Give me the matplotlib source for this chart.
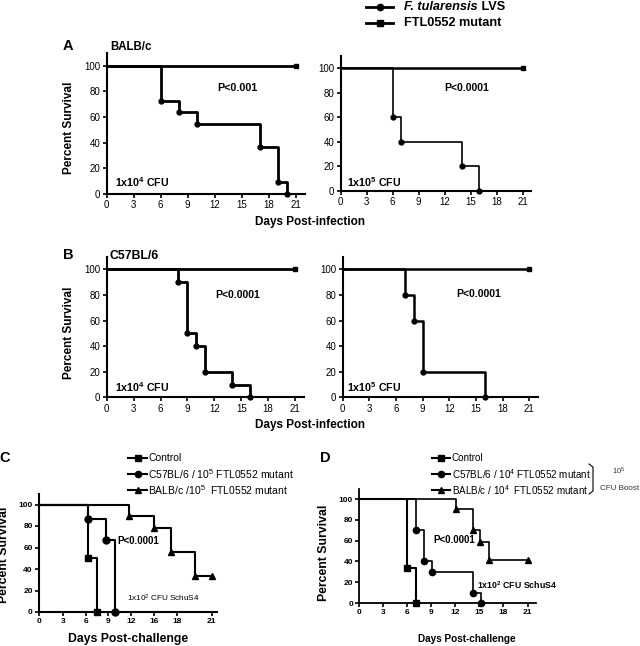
import matplotlib
matplotlib.use("Agg")
import matplotlib.pyplot as plt
from matplotlib.lines import Line2D

plt.rcParams['font.family'] = ['Liberation Sans', 'DejaVu Sans']
plt.rcParams['mathtext.fontset'] = 'custom'
plt.rcParams['mathtext.rm'] = 'Liberation Sans'
plt.rcParams['mathtext.bf'] = 'Liberation Sans:bold'
plt.rcParams['mathtext.it'] = 'Liberation Sans:italic'

W, H = 640, 646

# panel A: BALB/c infected with LVS
a1_days = [0, 6, 8, 10, 17, 19, 20]
a1_surv = [100, 72.7, 63.6, 54.5, 36.4, 9.1, 0]
a2_days = [0, 6, 7, 14, 16]
a2_surv = [100, 60, 40, 20, 0]
# panel B: C57BL/6 infected with LVS
b1_days = [0, 8, 9, 10, 11, 14, 16]
b1_surv = [100, 90, 50, 40, 20, 10, 0]
b2_days = [0, 7, 8, 9, 16]
b2_surv = [100, 80, 60, 20, 0]
# FTL0552 mutant, nobody died
mut_days = [0, 21]
mut_surv = [100, 100]

# panel C: SchuS4 challenge
c_ctrl_days = [0, 6, 7.1]
c_ctrl_surv = [100, 50, 0]
c_c57_days = [0, 6, 8.1, 9.2]
c_c57_surv = [100, 86.7, 66.7, 0]
c_balb_days = [0, 11, 14, 16, 19, 21]
c_balb_surv = [100, 88.9, 77.8, 55.6, 33.3, 33.3]
c_ticks = [0, 2.9, 5.7, 8.4, 11.2, 14, 16.8, 21]
c_ticklabels = ['0', '3', '6', '9', '12', '16', '18', '21']

# panel D: SchuS4 challenge after boost
d_ctrl_days = [0, 6, 7.1]
d_ctrl_surv = [100, 33.3, 0]
d_c57_days = [0, 7.1, 8.1, 9.1, 14.2, 15.2]
d_c57_surv = [100, 70, 40, 30, 10, 0]
d_balb_days = [0, 12.1, 14.2, 15.1, 16.2, 21]
d_balb_surv = [100, 90, 70, 58.3, 41.7, 41.7]

day_ticks = [0, 3, 6, 9, 12, 15, 18, 21]
surv_ticks = [0, 20, 40, 60, 80, 100]

fig = plt.figure(figsize=(6.4, 6.46), dpi=100)


def fx(x):
    return x / W


def fy(y):
    return 1 - y / H


def make_ax(x0, y0, ppd, ppu, xmax, ymax=110, spw=1.5, fs=7, bold=False):
    ax = fig.add_axes([fx(x0), fy(y0), ppd * xmax / W, ppu * ymax / H])
    ax.set_xlim(0, xmax)
    ax.set_ylim(0, ymax)
    ax.spines['top'].set_visible(False)
    ax.spines['right'].set_visible(False)
    ax.spines['left'].set_linewidth(spw)
    ax.spines['bottom'].set_linewidth(spw)
    ax.set_xticks(day_ticks)
    ax.set_yticks(surv_ticks)
    ax.tick_params(direction='out', length=3, width=1.2, labelsize=fs, pad=1.5)
    w = 'bold' if bold else 'normal'
    for lab in ax.get_xticklabels() + ax.get_yticklabels():
        lab.set_fontweight(w)
    return ax


def km(ax, days, surv, marker, lw, ms):
    ax.step(days, surv, where='post', color='k', lw=lw, clip_on=False)
    ax.plot(days[1:], surv[1:], marker, color='k', ms=ms, ls='none', clip_on=False)


def legend_row(x1, x2, y, marker, ms, lw=1.5):
    fig.add_artist(Line2D([fx(x1), fx(x2)], [fy(y), fy(y)], color='k', lw=lw,
                          transform=fig.transFigure))
    fig.add_artist(Line2D([fx((x1 + x2) / 2)], [fy(y)], marker=marker, color='k',
                          ms=ms, transform=fig.transFigure))


# ---- A ----
ax = make_ax(106.7, 194, 9.0, 1.285, 22)
km(ax, mut_days, mut_surv, 's', 2.0, 3.5)
km(ax, a1_days, a1_surv, 'o', 2.0, 3.5)
ax.text(12.3, 82.7, 'P<0.001', fontsize=7.7, fontweight='bold', va='center')
ax.text(0.9, 9.3, r'1x10$^\mathbf{4}$ CFU', fontsize=7.7, fontweight='bold', va='center')

ax = make_ax(340.7, 191, 8.67, 1.227, 22)
km(ax, mut_days, mut_surv, 's', 1.8, 3.5)
km(ax, a2_days, a2_surv, 'o', 1.2, 3.5)
ax.text(11.9, 84.2, 'P<0.0001', fontsize=7.5, fontweight='bold', va='center')
ax.text(0.7, 7.6, r'1x10$^\mathbf{5}$ CFU', fontsize=7.7, fontweight='bold', va='center')

# ---- B ----
ax = make_ax(106.7, 397.3, 8.97, 1.279, 22)
km(ax, mut_days, mut_surv, 's', 2.0, 3.5)
km(ax, b1_days, b1_surv, 'o', 2.0, 3.5)
ax.text(12.1, 80, 'P<0.0001', fontsize=7.5, fontweight='bold', va='center')
ax.text(0.9, 7.8, r'1x10$^\mathbf{4}$ CFU', fontsize=7.7, fontweight='bold', va='center')

ax = make_ax(342.7, 397.3, 8.886, 1.279, 22)
km(ax, mut_days, mut_surv, 's', 1.8, 3.5)
km(ax, b2_days, b2_surv, 'o', 1.8, 3.5)
ax.text(12.8, 80.5, 'P<0.0001', fontsize=7.5, fontweight='bold', va='center')
ax.text(0.45, 7.8, r'1x10$^\mathbf{5}$ CFU', fontsize=7.7, fontweight='bold', va='center')

# ---- C ----
ax = make_ax(39, 612, 8.22, 1.075, 21.6, spw=1.5, fs=6, bold=True)
ax.set_xticks(c_ticks)
ax.set_xticklabels(c_ticklabels, fontweight='bold')
km(ax, c_balb_days, c_balb_surv, '^', 1.5, 4.5)
km(ax, c_c57_days, c_c57_surv, 'o', 1.5, 5)
km(ax, c_ctrl_days, c_ctrl_surv, 's', 1.5, 4.5)
ax.text(9.5, 66, 'P<0.0001', fontsize=7, fontweight='bold', va='center')
ax.text(10.7, 12.5, r'1x10$^2$ CFU SchuS4', fontsize=5.9, va='center')

# ---- D ----
ax = make_ax(359.3, 603, 8.01, 1.04, 22.1, spw=1.3, fs=6, bold=True)
km(ax, d_balb_days, d_balb_surv, '^', 1.2, 4.5)
km(ax, d_c57_days, d_c57_surv, 'o', 1.2, 4.5)
km(ax, d_ctrl_days, d_ctrl_surv, 's', 1.5, 4.5)
ax.text(9.2, 60.5, 'P<0.0001', fontsize=7, fontweight='bold', va='center')
ax.text(14.7, 17, r'1x10$^\mathbf{2}$ CFU SchuS4', fontsize=6.3, fontweight='bold', va='center')

# ---- labels ----
fig.text(fx(68), fy(46.5), 'A', fontsize=10.5, fontweight='bold', ha='center', va='center')
fig.text(fx(110.7), fy(47.3), 'BALB/c', fontsize=8.3, fontweight='bold', va='center')
fig.text(fx(68), fy(255), 'B', fontsize=10.5, fontweight='bold', ha='center', va='center')
fig.text(fx(110), fy(256), 'C57BL/6', fontsize=8.8, fontweight='bold', va='center')
fig.text(fx(5), fy(458), 'C', fontsize=10.5, fontweight='bold', ha='center', va='center')
fig.text(fx(325), fy(458), 'D', fontsize=10.5, fontweight='bold', ha='center', va='center')

for yc in (128, 333):
    fig.text(fx(69), fy(yc), 'Percent Survival', fontsize=8.5, fontweight='bold',
             rotation=90, ha='center', va='center')
for yc in (222, 425):
    fig.text(fx(310.3), fy(yc), 'Days Post-infection', fontsize=8.5, fontweight='bold',
             ha='center', va='center')

fig.text(fx(4.5), fy(555), 'Percent Survival', fontsize=8.8, fontweight='bold',
         rotation=90, ha='center', va='center')
fig.text(fx(324), fy(552.5), 'Percent Survival', fontsize=8.8, fontweight='bold',
         rotation=90, ha='center', va='center')
fig.text(fx(127.7), fy(639), 'Days Post-challenge', fontsize=8.8, fontweight='bold',
         ha='center', va='center')
fig.text(fx(466.7), fy(639), 'Days Post-challenge', fontsize=7.2, fontweight='bold',
         ha='center', va='center')

# top legend
legend_row(366, 393.3, 6.7, 'o', 4.5, lw=2)
legend_row(366, 393.3, 23.3, 's', 4.5, lw=2)
t1 = fig.text(fx(404), fy(6.7), 'F. tularensis', fontsize=9.2, fontweight='bold',
              style='italic', va='center')
ax.annotate(' LVS', xy=(1, 0.5), xycoords=t1, fontsize=9.2, fontweight='bold',
            va='center', annotation_clip=False)
fig.text(fx(404), fy(23.3), 'FTL0552 mutant', fontsize=9.2, fontweight='bold', va='center')

# C legend
c_leg = ['Control', r'C57BL/6 / 10$^5$ FTL0552 mutant', r'BALB/c /10$^5$  FTL0552 mutant']
for lab, mk, yy in zip(c_leg, ['s', 'o', '^'], [458.3, 474.3, 490]):
    legend_row(128, 147, yy, mk, 4.5)
    fig.text(fx(148.5), fy(yy), lab, fontsize=7.5, va='center')

# D legend
d_leg = ['Control', r'C57BL/6 / 10$^4$ FTL0552 mutant', r'BALB/c / 10$^4$  FTL0552 mutant']
for lab, mk, yy in zip(d_leg, ['s', 'o', '^'], [458, 474, 490]):
    legend_row(431.7, 450, yy, mk, 4.5)
    fig.text(fx(452), fy(yy), lab, fontsize=7.1, va='center')

# bracket for the boost note
fig.add_artist(Line2D([fx(589), fx(593), fx(593), fx(589)],
                      [fy(464), fy(467), fy(491), fy(494)], color='k', lw=0.8,
                      transform=fig.transFigure))
fig.text(fx(618.5), fy(471.7), r'10$^5$', fontsize=5.5, ha='center', va='center', color='#333333')
fig.text(fx(599.5), fy(488.3), 'CFU Boost', fontsize=5.8, va='center', color='#333333')

fig.savefig('out.png', dpi=100)
